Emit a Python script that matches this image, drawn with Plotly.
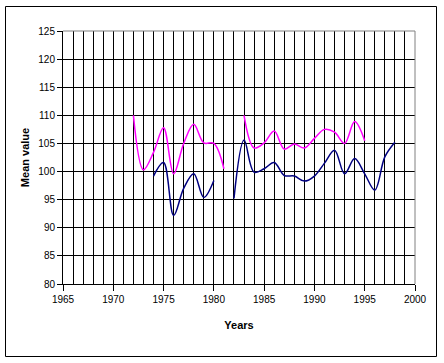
import plotly.graph_objects as go

years = list(range(1972, 1999))
magenta_vals = [110.0, 100.3, 103.4, 107.8, 99.6, 105.0, 108.4, 105.1, 105.0, 100.5,
                None, 110.0, 104.2, 105.1, 107.2, 104.0, 104.9, 104.2, 105.9, 107.5,
                107.0, 105.0, 108.9, 105.5, None, None, None]
blue_vals = [None, None, 99.2, 101.6, 92.2, 97.0, 99.6, 95.4, 98.4, None,
             95.2, 105.6, 99.9, 100.5, 101.6, 99.3, 99.2, 98.3, 99.2, 101.5,
             103.8, 99.6, 102.3, 99.6, 96.7, 102.6, 105.2]
x_ticks = [1965, 1970, 1975, 1980, 1985, 1990, 1995, 2000]
y_ticks = [80, 85, 90, 95, 100, 105, 110, 115, 120, 125]

W, H = 444, 363
L, R, T, B = 63, 29, 31, 79
pw, ph = W - L - R, H - T - B

fig = go.Figure()
fig.add_trace(go.Scatter(x=years, y=magenta_vals, mode="lines",
                         line=dict(color="#FF00FF", width=1.5, shape="spline", smoothing=1.0),
                         connectgaps=False, showlegend=False))
fig.add_trace(go.Scatter(x=years, y=blue_vals, mode="lines",
                         line=dict(color="#000080", width=1.5, shape="spline", smoothing=1.0),
                         connectgaps=False, showlegend=False))

font = dict(family="Arial, Liberation Sans, sans-serif", size=10, color="black")
tfont = dict(family="Arial, Liberation Sans, sans-serif", size=11, color="black")

fig.update_layout(
    width=W, height=H,
    margin=dict(l=L, r=R, t=T, b=B),
    paper_bgcolor="white", plot_bgcolor="white",
    font=font,
    xaxis=dict(range=[1965, 2000], tickvals=x_ticks, showgrid=True, gridcolor="black", gridwidth=1,
               minor=dict(dtick=1, tick0=1965, showgrid=True, gridcolor="black", gridwidth=1),
               showline=True, linecolor="black", linewidth=1, ticks="outside", ticklen=6,
               tickcolor="black", zeroline=False, tickfont=font,
               title=dict(text="<b>Years</b>", font=tfont, standoff=17)),
    yaxis=dict(range=[80, 125], tickvals=y_ticks, showgrid=True, gridcolor="black", gridwidth=1,
               showline=True, linecolor="black", linewidth=1, ticks="outside", ticklen=5,
               tickcolor="black", zeroline=False, tickfont=font,
               title=dict(text="<b>Mean value</b>", font=tfont, standoff=6)),
)

# gray top and right plot border
fig.add_shape(type="line", xref="paper", yref="paper", x0=0, x1=1, y0=1, y1=1,
              line=dict(color="#808080", width=1), layer="above")
fig.add_shape(type="line", xref="paper", yref="paper", x0=1, x1=1, y0=0, y1=1,
              line=dict(color="#808080", width=1), layer="above")
# outer chart border
fig.add_shape(type="rect", xref="paper", yref="paper",
              x0=(5.5 - L) / pw, x1=(436.5 - L) / pw,
              y0=(H - B - 356.5) / ph, y1=(H - B - 6.5) / ph,
              line=dict(color="black", width=1), fillcolor="rgba(0,0,0,0)", layer="below")

fig.write_html("out.html", config={"displayModeBar": False},
               post_script="document.body.style.margin='0';")
